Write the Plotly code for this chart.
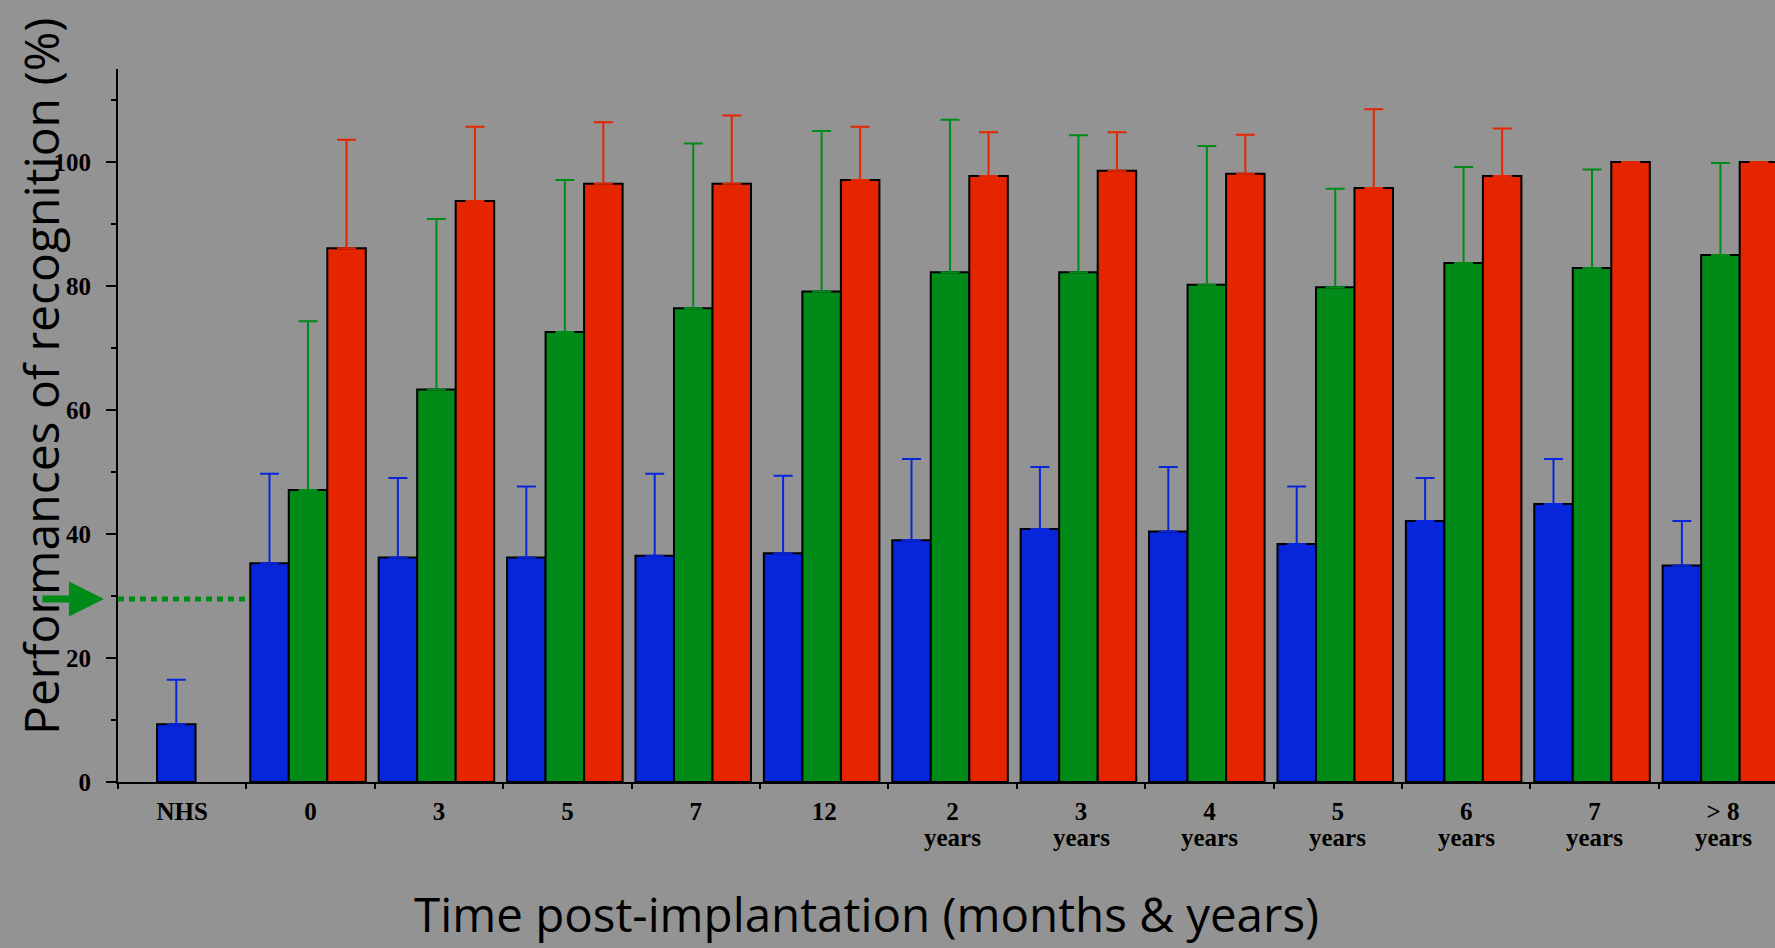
import plotly.graph_objects as go

categories = ["NHS", "0", "3", "5", "7", "12", "2 years", "3 years", "4 years",
              "5 years", "6 years", "7 years", "> 8 years"]
tick_main = ["NHS", "0", "3", "5", "7", "12", "2", "3", "4", "5", "6", "7", "&gt; 8"]
tick_sub = ["", "", "", "", "", "", "years", "years", "years", "years", "years", "years", "years"]

blue_vals = [9.3, 35.3, 36.2, 36.2, 36.5, 36.9, 39.0, 40.8, 40.4, 38.4, 42.1, 44.85, 34.9]
blue_err = [7.2, 14.4, 12.85, 11.45, 13.2, 12.5, 13.1, 10.0, 10.4, 9.25, 6.95, 7.25, 7.2]

green_vals = [None, 47.1, 63.3, 72.6, 76.4, 79.1, 82.2, 82.2, 80.2, 79.8, 83.7, 82.9, 85.0]
green_err = [None, 27.2, 27.5, 24.5, 26.6, 25.9, 24.6, 22.1, 22.4, 15.9, 15.5, 15.9, 14.85]

red_vals = [None, 86.1, 93.7, 96.5, 96.5, 97.1, 97.75, 98.6, 98.1, 95.8, 97.75, 100.0, 100.0]
red_err = [None, 17.5, 12.0, 9.9, 11.0, 8.6, 7.05, 6.2, 6.3, 12.7, 7.65, 0.0, 0.0]

chance_level = 29.5

BLUE = "#0726DC"
GREEN = "#008A18"
RED = "#E52500"
BG = "#939393"

bar_w = 0.30
n = len(categories)
blue_offset = [-0.196] + [-0.47] * (n - 1)


def err(arr, color):
    return dict(type="data", array=arr, arrayminus=[0] * len(arr), symmetric=False,
                color=color, thickness=2, width=9.5)


fig = go.Figure()
fig.add_trace(go.Bar(x=categories, y=blue_vals, width=bar_w, offset=blue_offset,
                     marker=dict(color=BLUE, line=dict(color="black", width=2)),
                     error_y=err(blue_err, BLUE), name="blue"))
fig.add_trace(go.Bar(x=categories, y=green_vals, width=bar_w, offset=-0.17,
                     marker=dict(color=GREEN, line=dict(color="black", width=2)),
                     error_y=err(green_err, GREEN), name="green"))
fig.add_trace(go.Bar(x=categories, y=red_vals, width=bar_w, offset=0.13,
                     marker=dict(color=RED, line=dict(color="black", width=2)),
                     error_y=err(red_err, RED), name="red"))

# dotted chance line from the y axis to the first group boundary
fig.add_shape(type="line", xref="x", yref="y", x0=-0.5, x1=0.5, y0=chance_level, y1=chance_level,
              line=dict(color=GREEN, width=5, dash="6px,5px"))

tick_font = dict(family="Liberation Serif", size=25, color="black", weight="bold")

annotations = [
    dict(text="Performances of recognition (%)", xref="paper", yref="paper",
         x=-0.0471, y=0.5694, xanchor="center", yanchor="middle", textangle=-90,
         showarrow=False, font=dict(family="Open Sans", size=48, color="black")),
    dict(text="Time post-implantation (months & years)", xref="paper", yref="paper",
         x=0.452, y=-0.184, xanchor="center", yanchor="middle",
         showarrow=False, font=dict(family="Open Sans", size=47.5, color="black")),
    dict(text="", xref="paper", yref="y", x=-0.0085, y=chance_level,
         axref="pixel", ayref="pixel", ax=-63, ay=0, showarrow=True,
         arrowhead=2, arrowsize=1.0, arrowwidth=7, arrowcolor=GREEN),
]
for cat, sub in zip(categories, tick_sub):
    if sub:
        annotations.append(dict(text=sub, xref="x", yref="paper", x=cat, y=-0.0785,
                                xanchor="center", yanchor="middle", showarrow=False,
                                font=tick_font))

fig.update_layout(
    width=1775, height=948,
    margin=dict(l=118, r=0, t=69, b=166, autoexpand=False),
    paper_bgcolor=BG, plot_bgcolor=BG,
    barmode="overlay", showlegend=False,
    xaxis=dict(type="category", range=[-0.5, 12.405], showline=True, linecolor="black",
               linewidth=2, ticks="outside", tickson="boundaries", ticklen=5, tickwidth=2,
               tickcolor="black", tickfont=tick_font, showgrid=False, zeroline=False,
               tickmode="array", tickvals=categories, ticktext=tick_main,
               ticklabelstandoff=6),
    yaxis=dict(range=[0, 115], showline=True, linecolor="black", linewidth=2,
               tickvals=[0, 20, 40, 60, 80, 100], ticks="outside", ticklen=10, tickwidth=2,
               tickcolor="black", tickfont=tick_font, showgrid=False, zeroline=False,
               ticklabelstandoff=10,
               minor=dict(dtick=10, tick0=0, ticks="outside", ticklen=5, tickwidth=2,
                          tickcolor="black", showgrid=False)),
    annotations=annotations,
)

fig.write_html("out.html", post_script="document.body.style.margin='0';",
               config={"displayModeBar": False})
